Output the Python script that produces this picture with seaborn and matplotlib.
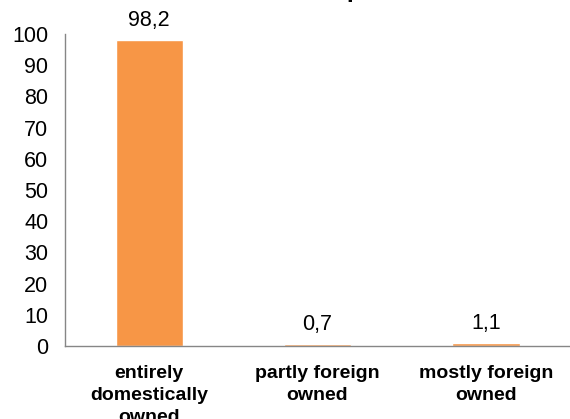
import matplotlib
matplotlib.use("Agg")
import matplotlib.pyplot as plt
import seaborn as sns
import pandas as pd

categories = ["entirely\ndomestically\nowned", "partly foreign\nowned", "mostly foreign\nowned"]
values = [98.2, 0.7, 1.1]
yticks = [0, 10, 20, 30, 40, 50, 60, 70, 80, 90, 100]
title = "Ownership"

sns.set_theme(style="white")
plt.rcParams["font.family"] = ["Liberation Sans", "DejaVu Sans"]

df = pd.DataFrame({"cat": categories, "val": values})

fig = plt.figure(figsize=(5.7, 4.19), dpi=100)
ax = fig.add_axes([65/570, 1-346/419, 1-65/570, 312/419])
sns.barplot(data=df, x="cat", y="val", color="#F79646", width=0.4, ax=ax, saturation=1)

ax.set_xlim(-0.5, 2.5)
ax.set_ylim(0, 100)
ax.set_yticks(yticks)
ax.set_xlabel("")
ax.set_ylabel("")
ax.tick_params(axis="y", length=0, pad=12, labelsize=15.5, labelcolor="black")
ax.tick_params(axis="x", length=0, pad=14, labelcolor="black")
ax.set_xticks(range(len(categories)))
ax.set_xticklabels(categories, fontsize=14, fontweight="bold", linespacing=1.38)

for s in ["top", "right"]:
    ax.spines[s].set_visible(False)
for s in ["left", "bottom"]:
    ax.spines[s].set_color("#868686")
    ax.spines[s].set_linewidth(1.0)

ax.bar_label(ax.containers[0], labels=[f"{v:.1f}".replace(".", ",") for v in values],
             padding=6, fontsize=15.5, color="black")

fig.text(298/570, 1 + 3/419, title, ha="center", va="baseline",
         fontsize=18, fontweight="bold", color="black")

fig.savefig("out.png", dpi=100)
